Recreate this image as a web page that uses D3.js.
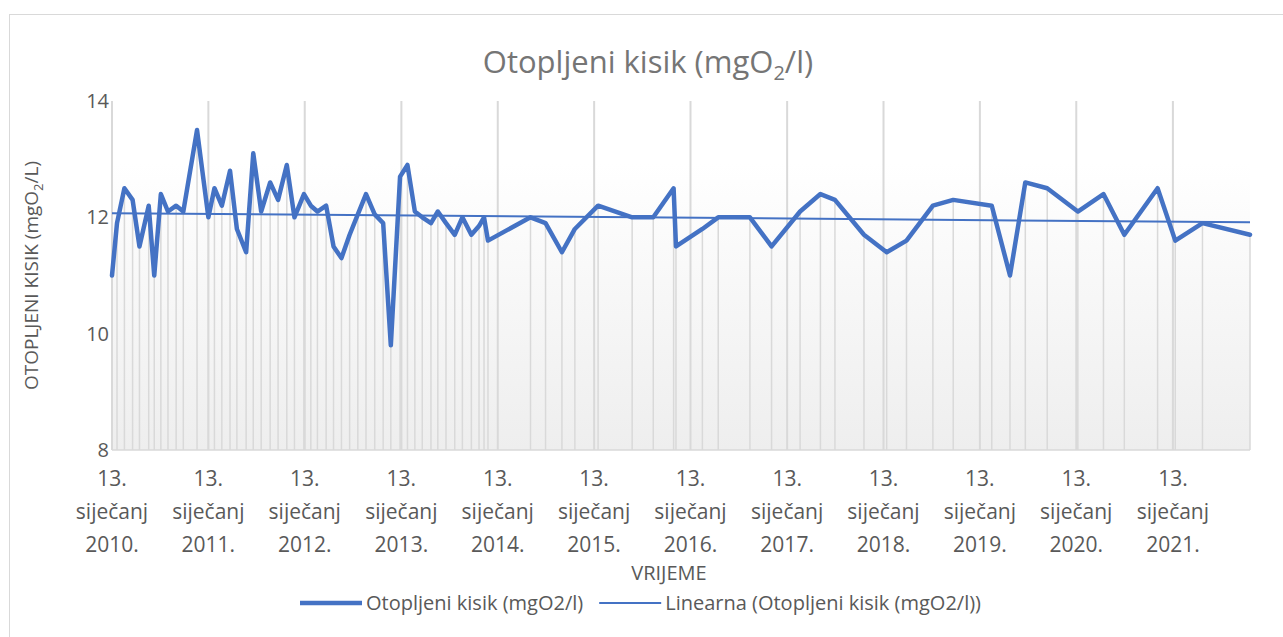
<!DOCTYPE html>
<html>
<head>
<meta charset="utf-8">
<script src="https://cdn.jsdelivr.net/npm/d3@7"></script>
<style>
  body { margin: 0; background: #fff; }
  svg text { font-family: "Open Sans", sans-serif; }
</style>
</head>
<body>
<svg id="chart" width="1283" height="637"></svg>
<script>
const dates = [
  "2010-01-13","2010-02-01","2010-03-01","2010-04-01","2010-04-27","2010-06-01","2010-06-22","2010-07-17",
  "2010-08-13","2010-09-13","2010-10-10","2010-12-01","2011-01-13","2011-02-05","2011-03-05","2011-04-05",
  "2011-05-01","2011-06-05","2011-07-02","2011-08-01","2011-09-04","2011-10-04","2011-11-06","2011-12-05",
  "2012-01-10","2012-02-05","2012-03-01","2012-04-03","2012-05-01","2012-05-31","2012-07-01","2012-08-01",
  "2012-09-01","2012-10-04","2012-11-05","2012-12-04","2013-01-08","2013-02-05","2013-03-05","2013-04-02",
  "2013-05-05","2013-05-31","2013-07-01","2013-08-03","2013-09-01","2013-10-05","2013-11-03","2013-11-22",
  "2013-12-07","2014-05-17","2014-07-13","2014-09-13","2014-11-01","2015-01-28","2015-06-06","2015-08-25",
  "2015-11-10","2015-11-19","2016-02-27","2016-04-27","2016-08-25","2016-11-15","2017-03-03","2017-05-19",
  "2017-07-13","2017-10-31","2018-01-25","2018-04-10","2018-07-19","2018-10-04","2019-02-27","2019-05-07",
  "2019-07-04","2019-09-25","2020-01-19","2020-04-25","2020-07-13","2020-11-16","2021-01-22","2021-05-05",
  "2021-11-01"
]
// dissolved oxygen, mgO2/l
const values = [
  11.0, 11.9, 12.5, 12.3, 11.5, 12.2, 11.0, 12.4,
  12.1, 12.2, 12.1, 13.5, 12.0, 12.5, 12.2, 12.8,
  11.8, 11.4, 13.1, 12.1, 12.6, 12.3, 12.9, 12.0,
  12.4, 12.2, 12.1, 12.2, 11.5, 11.3, 11.7, 12.05,
  12.4, 12.05, 11.9, 9.8, 12.7, 12.9, 12.1, 12.0,
  11.9, 12.1, 11.9, 11.7, 12.0, 11.7, 11.85, 12.0,
  11.6, 12.0, 11.9, 11.4, 11.8, 12.2, 12.0, 12.0,
  12.5, 11.5, 11.8, 12.0, 12.0, 11.5, 12.1, 12.4,
  12.3, 11.7, 11.4, 11.6, 12.2, 12.3, 12.2, 11.0,
  12.6, 12.5, 12.1, 12.4, 11.7, 12.5, 11.6, 11.9,
  11.7
]
const yTicks = [8, 10, 12, 14]
const tickYears = [2010, 2011, 2012, 2013, 2014, 2015, 2016, 2017, 2018, 2019, 2020, 2021]
const tickDay = "13."
const tickMonth = "siječanj"
const titleParts = ["Otopljeni kisik (mgO", "2", "/l)"]
const yTitleParts = ["OTOPLJENI KISIK (mgO", "2", "/L)"]
const xTitle = "VRIJEME"
const legendLabels = ["Otopljeni kisik (mgO2/l)", "Linearna (Otopljeni kisik (mgO2/l))"]

const BLUE = "#4472C4"
const TEXT = "#595959"
const GRID = "#d9d9d9"

const svg = d3.select("#chart")
const parse = d3.timeParse("%Y-%m-%d")
const data = dates.map((d, i) => ({ date: parse(d), value: values[i] }))

const plot = { left: 112, right: 1250, top: 101, bottom: 450 }

const x = d3.scaleTime()
  .domain(d3.extent(data, d => d.date))
  .range([plot.left, plot.right])
const y = d3.scaleLinear()
  .domain([8, 14])
  .range([plot.bottom, plot.top])

//chart frame
svg.append("rect")
  .attr("x", 9.5).attr("y", 14.5)
  .attr("width", 1290).attr("height", 640)
  .attr("fill", "#fff").attr("stroke", "#d9d9d9").attr("stroke-width", 1)

//plot area gradient
const grad = svg.append("defs").append("linearGradient")
  .attr("id", "plotFill").attr("x1", 0).attr("y1", 0).attr("x2", 0).attr("y2", 1)
grad.append("stop").attr("offset", "0%").attr("stop-color", "#ffffff")
grad.append("stop").attr("offset", "18%").attr("stop-color", "#ffffff")
grad.append("stop").attr("offset", "100%").attr("stop-color", "#eeeeee")

svg.append("rect")
  .attr("x", plot.left).attr("y", plot.top)
  .attr("width", plot.right - plot.left).attr("height", plot.bottom - plot.top)
  .attr("fill", "url(#plotFill)")

//drop lines under every point
svg.append("g").selectAll("line")
  .data(data)
  .join("line")
  .attr("x1", d => x(d.date)).attr("x2", d => x(d.date))
  .attr("y1", d => y(d.value)).attr("y2", plot.bottom)
  .attr("stroke", GRID).attr("stroke-width", 1.5)

//year gridlines
const tickDates = tickYears.map(yr => new Date(yr, 0, 13))
svg.append("g").selectAll("line")
  .data(tickDates)
  .join("line")
  .attr("x1", d => x(d)).attr("x2", d => x(d))
  .attr("y1", plot.top).attr("y2", plot.bottom)
  .attr("stroke", GRID).attr("stroke-width", 2)

svg.append("line")
  .attr("x1", plot.left).attr("x2", plot.right)
  .attr("y1", plot.bottom).attr("y2", plot.bottom)
  .attr("stroke", GRID).attr("stroke-width", 1.5)

//data line
svg.append("path")
  .datum(data)
  .attr("fill", "none")
  .attr("stroke", BLUE).attr("stroke-width", 4.5)
  .attr("stroke-linejoin", "round").attr("stroke-linecap", "round")
  .attr("d", d3.line().x(d => x(d.date)).y(d => y(d.value)))

//linear trendline (least squares on date)
const xs = data.map(d => +d.date), mx = d3.mean(xs), my = d3.mean(values)
const slope = d3.sum(data, d => (+d.date - mx) * (d.value - my)) / d3.sum(xs, v => (v - mx) * (v - mx))
const trend = x.domain().map(d => ({ date: d, value: my + slope * (+d - mx) }))
svg.append("path")
  .datum(trend)
  .attr("fill", "none")
  .attr("stroke", BLUE).attr("stroke-width", 2)
  .attr("d", d3.line().x(d => x(d.date)).y(d => y(d.value)))

//y tick labels
svg.append("g").selectAll("text")
  .data(yTicks)
  .join("text")
  .attr("x", plot.left - 3).attr("y", d => y(d))
  .attr("dy", "0.35em").attr("text-anchor", "end")
  .attr("font-size", 20).attr("fill", TEXT)
  .text(d => d)

//x tick labels (3 lines each)
const xl = svg.append("g").selectAll("text")
  .data(tickDates)
  .join("text")
  .attr("text-anchor", "middle")
  .attr("font-size", 21).attr("fill", TEXT)
xl.each(function (d) {
  const t = d3.select(this)
  const lines = [tickDay, tickMonth, d.getFullYear() + "."]
  lines.forEach((s, i) => {
    t.append("tspan").attr("x", x(d)).attr("y", 486 + i * 33).text(s)
  })
})

//title
const title = svg.append("text")
  .attr("x", 648).attr("y", 73)
  .attr("text-anchor", "middle")
  .attr("font-size", 31).attr("fill", "#757575")
title.append("tspan").text(titleParts[0])
title.append("tspan").attr("font-size", 20).attr("dy", 7).text(titleParts[1])
title.append("tspan").attr("dy", -7).text(titleParts[2])

//axis titles
const yt = svg.append("text")
  .attr("transform", "translate(38," + ((plot.top + plot.bottom) / 2) + ") rotate(-90)")
  .attr("text-anchor", "middle")
  .attr("font-size", 19).attr("fill", TEXT)
yt.append("tspan").text(yTitleParts[0])
yt.append("tspan").attr("font-size", 13).attr("dy", 5).text(yTitleParts[1])
yt.append("tspan").attr("dy", -5).text(yTitleParts[2])

svg.append("text")
  .attr("x", 669).attr("y", 580)
  .attr("text-anchor", "middle")
  .attr("font-size", 20).attr("fill", TEXT)
  .text(xTitle)

//legend
const legend = svg.append("g")
let lx = 300
const ly = 603
legendLabels.forEach((lab, i) => {
  legend.append("line")
    .attr("x1", lx).attr("x2", lx + 62)
    .attr("y1", ly).attr("y2", ly)
    .attr("stroke", BLUE).attr("stroke-width", i === 0 ? 4.5 : 2)
  const t = legend.append("text")
    .attr("x", lx + 66).attr("y", ly).attr("dy", "0.35em")
    .attr("font-size", 20).attr("fill", TEXT)
    .text(lab)
  lx += 66 + t.node().getComputedTextLength() + 16
})
</script>
</body>
</html>
